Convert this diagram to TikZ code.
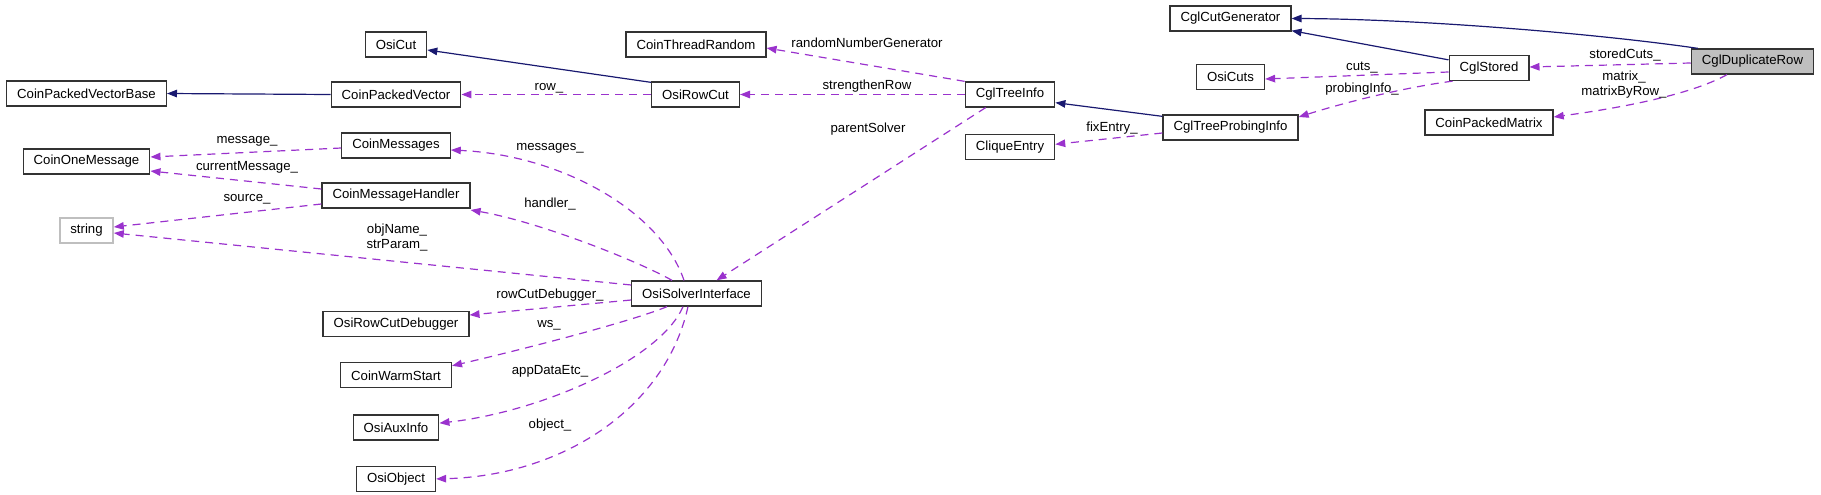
\documentclass[tikz,border=0pt]{standalone}
\usepackage{fontspec}
\setmainfont{Liberation Sans}
\usetikzlibrary{positioning, arrows.meta}

\definecolor{inheritblue}{HTML}{191970}
\definecolor{usagepurple}{HTML}{9A32CD}
\definecolor{boxgray}{HTML}{BFBFBF}

\begin{document}
\begin{tikzpicture}[
    x=1pt, y=-1pt,
    every node/.style={font=\fontsize{13.2}{15}\selectfont},
    cls/.style={rectangle, draw=black!80, line width=1.3pt, fill=white, minimum height=25pt, inner xsep=10.5pt, inner ysep=0pt},
    focus/.style={cls, fill=boxgray},
    extcls/.style={cls, draw=boxgray},
    inherit/.style={-{Triangle[length=10pt, width=7.5pt]}, inheritblue, line width=1.2pt},
    usage/.style={-{Triangle[length=10pt, width=7.5pt]}, usagepurple, line width=1.2pt, dash pattern=on 8pt off 6pt},
    label_style/.style={inner sep=0pt, align=center}
]
    \useasboundingbox (0,0) rectangle (1821,495);

    % --- DRAW CLASS BOXES ---
    \node[focus] (dup) at (1752.5,61.5) {CglDuplicateRow};
    \node[cls] (stored) at (1489,68) {CglStored};
    \node[cls] (pmatrix) at (1489,122.5) {CoinPackedMatrix};

    \node[cls] (cutgen) at (1230.5,18.5) {CglCutGenerator};
    \node[cls] (ocuts) at (1230.5,77) {OsiCuts};
    \node[cls] (tprobe) at (1230.5,127.5) {CglTreeProbingInfo};

    \node[cls] (tinfo) at (1010,94.5) {CglTreeInfo};
    \node[cls, below=26pt of tinfo] (clique) {CliqueEntry};

    \node[cls] (threadrand) at (696,44.5) {CoinThreadRandom};
    \node[cls] (rowcut) at (695.5,94.5) {OsiRowCut};
    \node[cls] (solver) at (696.5,293.5) {OsiSolverInterface};

    \node[cls] (osicut) at (396,44.5) {OsiCut};
    \node[cls] (pvec) at (396,94.5) {CoinPackedVector};
    \node[cls] (msgs) at (396,145.5) {CoinMessages};
    \node[cls] (handler) at (396,195.5) {CoinMessageHandler};
    \node[cls] (rcdebug) at (396,324) {OsiRowCutDebugger};
    \node[cls, below=25pt of rcdebug] (warm) {CoinWarmStart};
    \node[cls, below=26pt of warm] (auxinfo) {OsiAuxInfo};
    \node[cls, below=25pt of auxinfo] (object) {OsiObject};

    \node[cls] (pvecbase) at (86.5,93.5) {CoinPackedVectorBase};
    \node[cls] (onemsg) at (86.5,161.5) {CoinOneMessage};
    \node[extcls] (string) at (86.5,230.5) {string};

    % --- INHERITANCE ---
    \draw[inherit] ([xshift=7pt]dup.north west) .. controls (1600,34) and (1420,19) .. (cutgen.east);
    \draw[inherit] ([yshift=-5pt]stored.north west) -- ([yshift=1pt]cutgen.south east);
    \draw[inherit] ([yshift=-2pt]tprobe.north west) -- ([yshift=5pt]tinfo.south east);
    \draw[inherit] ([yshift=-1pt]rowcut.north west) -- ([yshift=-5.5pt]osicut.east);
    \draw[inherit] (pvec.west) -- (pvecbase.east);

    % --- USAGE (MEMBERS) ---
    \draw[usage] ([yshift=-1.5pt]dup.west) -- ([yshift=1pt]stored.east);
    \draw[usage] ([xshift=-25.5pt]dup.south) .. controls (1690,95) and (1620,108) .. ([yshift=5.5pt]pmatrix.east);
    \draw[usage] ([yshift=-4pt]stored.west) -- ([yshift=-2pt]ocuts.east);
    \draw[usage] ([xshift=4pt]stored.south west) .. controls (1400,88) and (1340,104) .. ([yshift=10.5pt]tprobe.east);
    \draw[usage] ([yshift=-5.5pt]tprobe.west) -- ([yshift=2.5pt]clique.east);
    \draw[usage] (tinfo.north west) -- ([yshift=-3.5pt]threadrand.east);
    \draw[usage] (tinfo.west) -- (rowcut.east);
    \draw[usage] ([xshift=21pt]tinfo.south west) -- ([xshift=20pt]solver.north);
    \draw[usage] (rowcut.west) -- (pvec.east);
    \draw[usage] ([yshift=-2.5pt]msgs.west) -- ([yshift=4.5pt]onemsg.east);
    \draw[usage] ([yshift=6.5pt]handler.west) -- ([yshift=-9.5pt]onemsg.east);
    \draw[usage] ([yshift=-8.5pt]handler.west) -- ([yshift=3.5pt]string.east);
    \draw[usage] ([xshift=-12.5pt]solver.north) .. controls (660,210) and (560,155) .. ([yshift=-4.5pt]msgs.east);
    \draw[usage] ([xshift=-24.5pt]solver.north) .. controls (640,262) and (540,222) .. ([yshift=-14.5pt]handler.east);
    \draw[usage] ([yshift=8.5pt]solver.west) -- ([yshift=-2.5pt]string.east);
    \draw[usage] ([yshift=-6.5pt]solver.west) -- ([yshift=9pt]rcdebug.east);
    \draw[usage] ([xshift=-29.5pt]solver.south) .. controls (630,322) and (520,350) .. ([yshift=9.5pt]warm.east);
    \draw[usage] ([xshift=-13.5pt]solver.south) .. controls (660,360) and (540,412) .. ([yshift=4.5pt]auxinfo.east);
    \draw[usage] ([xshift=-8.5pt]solver.south) .. controls (665,410) and (560,476) .. (object.east);

    % --- MEMBER NAMES ---
    \node[label_style] (l-stored) at (1625,55) {storedCuts\_};
    \node[label_style] (l-matrix) at (1624,84.5) {matrix\_\\matrixByRow\_};
    \node[label_style] (l-cuts) at (1362,68) {cuts\_};
    \node[label_style] (l-probing) at (1362,89) {probingInfo\_};
    \node[label_style] (l-fix) at (1112,128) {fixEntry\_};
    \node[label_style] (l-random) at (867,43) {randomNumberGenerator};
    \node[label_style] (l-strength) at (867,86) {strengthenRow};
    \node[label_style] (l-parent) at (868,129) {parentSolver};
    \node[label_style] (l-row) at (549,88) {row\_};
    \node[label_style] (l-msgs) at (550,148) {messages\_};
    \node[label_style] (l-handler) at (550,204) {handler\_};
    \node[label_style] (l-name) at (397,237.5) {objName\_\\strParam\_};
    \node[label_style] (l-message) at (247,141) {message\_};
    \node[label_style] (l-current) at (247,167) {currentMessage\_};
    \node[label_style] (l-source) at (247,199) {source\_};
    \node[label_style] (l-debug) at (550,295) {rowCutDebugger\_};
    \node[label_style] (l-ws) at (549,325) {ws\_};
    \node[label_style] (l-app) at (550,371) {appDataEtc\_};
    \node[label_style] (l-object) at (550,425) {object\_};

\end{tikzpicture}
\end{document}
